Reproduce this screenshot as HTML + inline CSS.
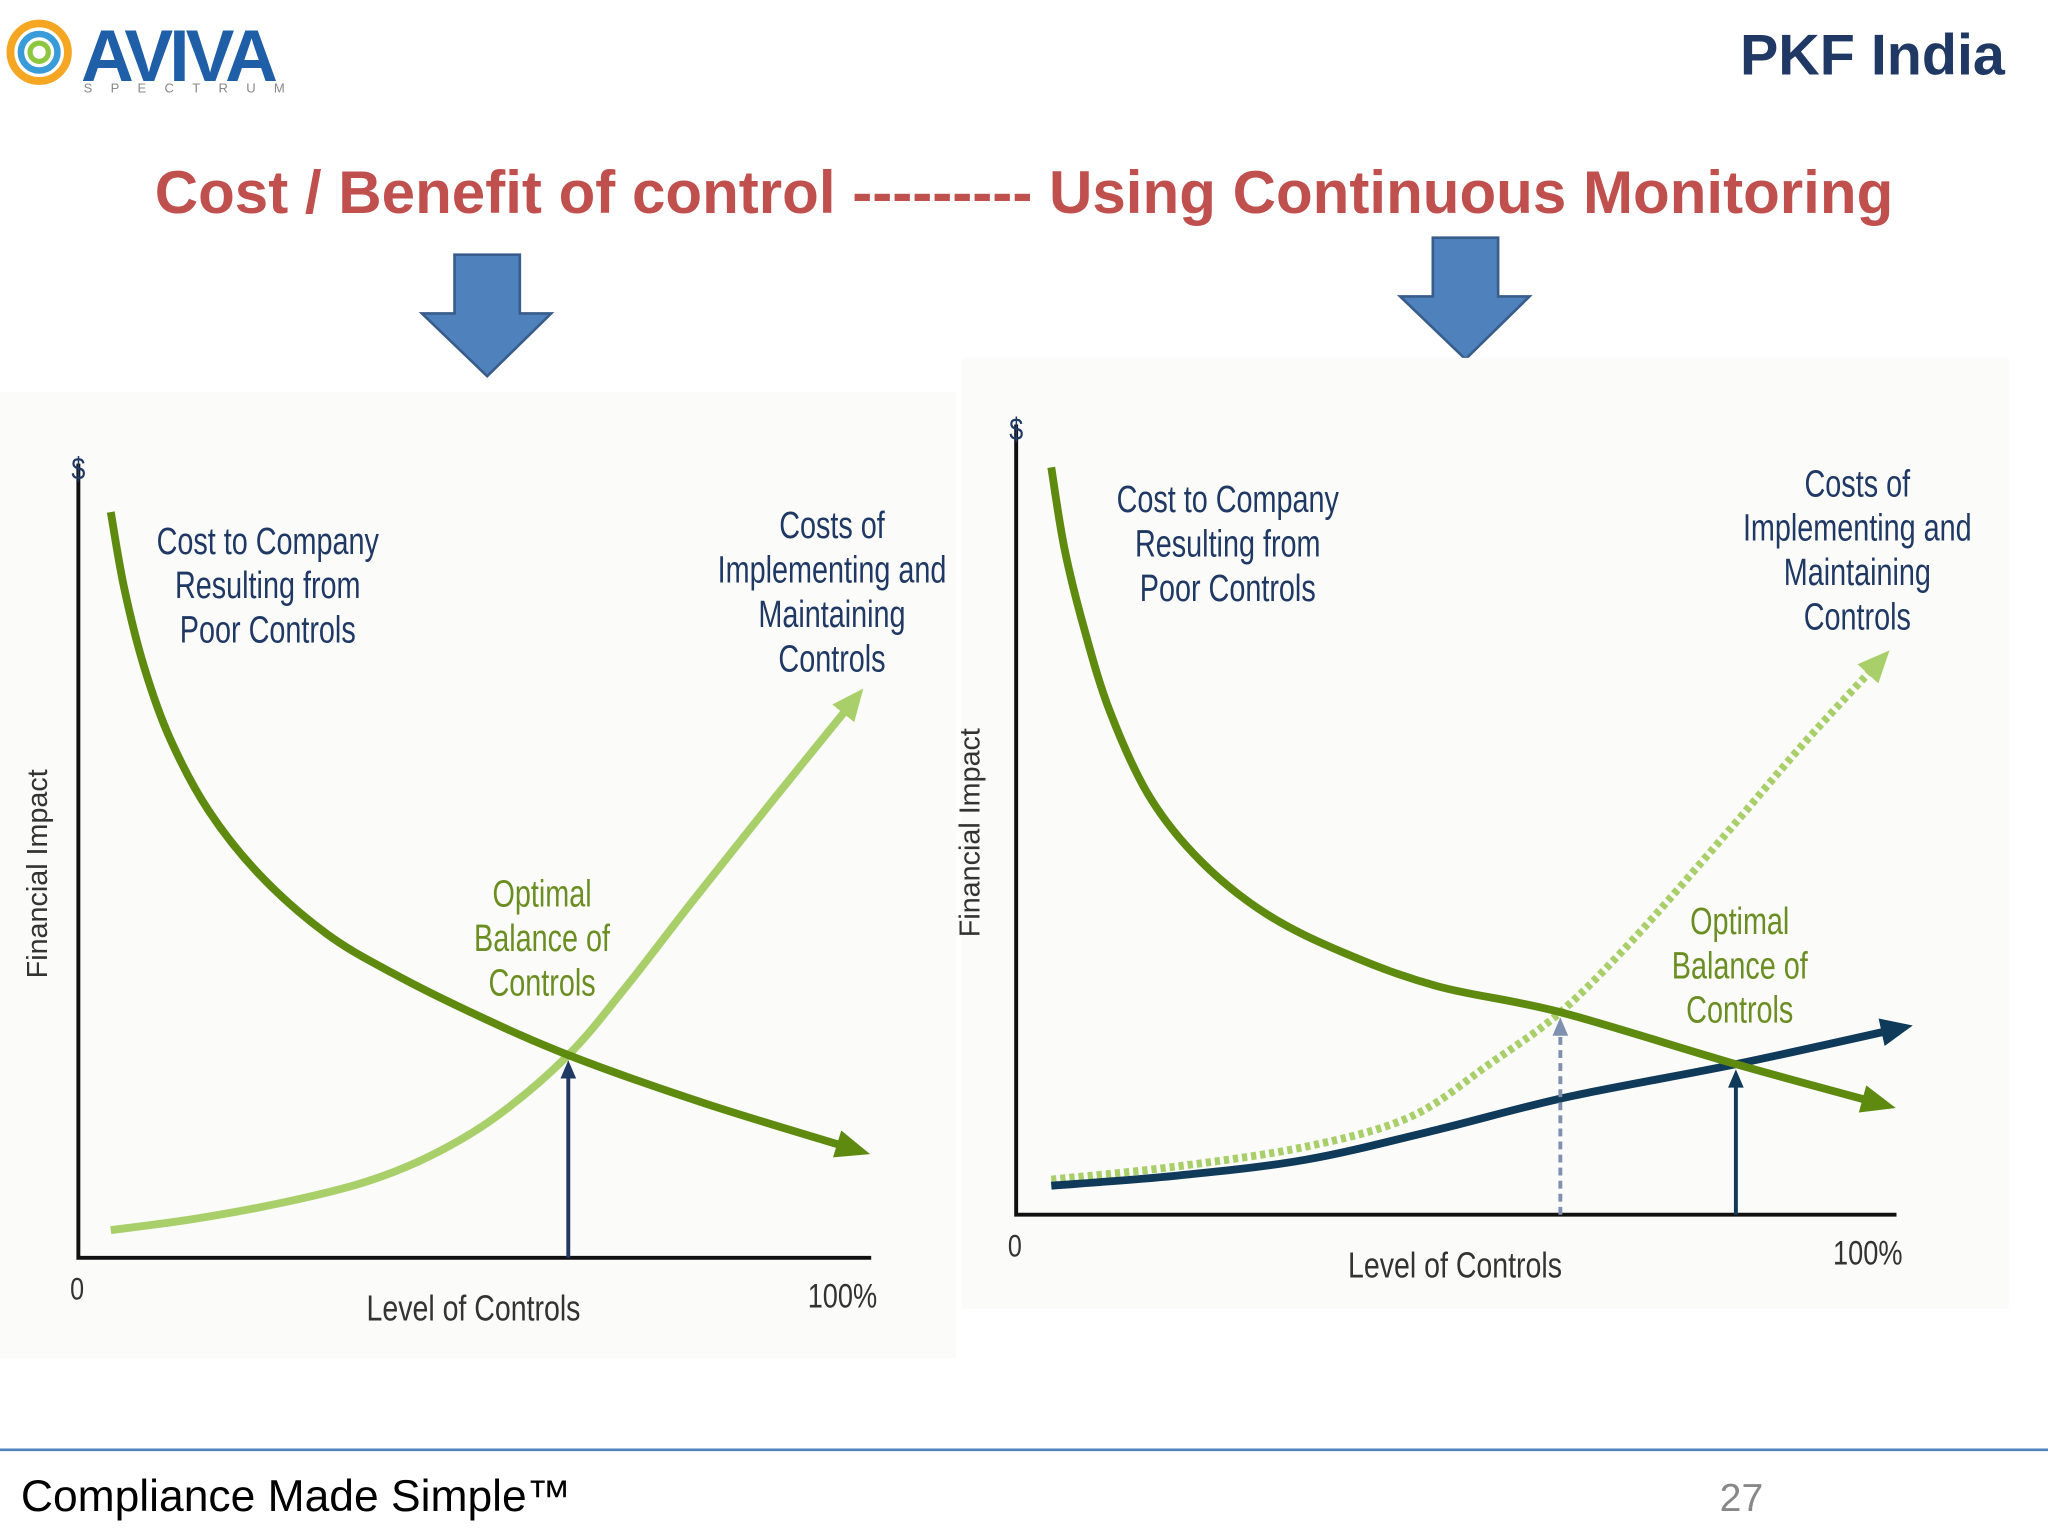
<!DOCTYPE html>
<html><head><meta charset="utf-8"><style>
body{margin:0;background:#fff;width:2048px;height:1536px;overflow:hidden}
svg{display:block}
.t{font-family:"Liberation Sans",sans-serif}
.n{font-family:"Liberation Sans",sans-serif}
</style></head><body>
<svg id="s" width="2048" height="1536" viewBox="0 0 1568 1176">
<g>
<circle cx="30" cy="40" r="22" fill="none" stroke="#f5a623" stroke-width="6"/>
<circle cx="30" cy="40" r="14" fill="none" stroke="#3a9bd9" stroke-width="5"/>
<circle cx="30" cy="40" r="7" fill="none" stroke="#8dc63f" stroke-width="4"/>
<text x="62" y="62" class="t" font-size="56" font-weight="bold" fill="#1f5fa8" letter-spacing="-3">AVIVA</text>
<text x="64" y="71" class="t" font-size="10" fill="#888" letter-spacing="14">SPECTRUM</text>
</g>
<text x="1535" y="57" text-anchor="end" class="t" font-size="44" font-weight="bold" fill="#1f3864">PKF India</text>
<text x="784" y="163" text-anchor="middle" class="t" font-size="46" font-weight="bold" fill="#c0504d">Cost / Benefit of control --------- Using Continuous Monitoring</text>
<path d="M348,195h50v45h24l-49,48l-50,-48h25z" fill="#4f81bd" stroke="#385d8a" stroke-width="2"/>
<path d="M1097,182h50v45h24l-49,48l-50,-48h25z" fill="#4f81bd" stroke="#385d8a" stroke-width="2"/>
<rect x="0" y="300" width="732" height="740" fill="#fbfbf9"/>
<rect x="736" y="274" width="802" height="728" fill="#fbfbf9"/>
<g id="L"></g>
<g id="R"></g>
<line x1="0" y1="1110" x2="1568" y2="1110" stroke="#4f81bd" stroke-width="2"/>
<text x="16" y="1157" class="t" font-size="34" fill="#000">Compliance Made Simple™</text>
<text x="1350" y="1157" text-anchor="end" class="t" font-size="30" fill="#888">27</text>
</svg>
<script>
// data: [level %, financial impact %]
const leftCost=[[4.1,97.1],[5.8,87.2],[8.3,77],[11.6,67.6],[16.5,58.2],[23.1,49.7],[31.4,42.2],[39.7,37.1],[49.6,32],[62,26.4],[79.3,20.1],[98.3,14.1]];
const leftImpl=[[4.1,3.6],[14.9,5.1],[26.4,7.3],[36.4,9.9],[44.6,13.3],[52.9,18.4],[62,26.4],[69.4,35.4],[77.7,46.4],[87.6,59.2],[98.3,72.8]];
const leftOptimal=62;
const rightCost=[[4,97.8],[5.5,87.2],[7.7,76.9],[10.7,65.8],[15.2,54.7],[21.1,46.2],[28.6,39.3],[37.5,34.2],[48,29.9],[62,26.5],[82,19.7],[98.5,14.5]];
const rightImplOld=[[4,4.6],[18.2,6.3],[33,8.9],[44.9,12.8],[53.9,19.7],[62,26.5],[70.2,35.9],[80.7,49.6],[89.6,61.5],[98.5,72.6]];
const rightImplNew=[[4,3.8],[18.2,5.1],[33,7.2],[47.9,11.1],[62.8,15.4],[82,19.7],[100.7,24.4]];
const rightOptimalOld=62, rightOptimalNew=82;
const NS="http://www.w3.org/2000/svg";
function mk(p,tag,a){const e=document.createElementNS(NS,tag);for(const k in a)e.setAttribute(k,a[k]);p.appendChild(e);return e;}
function path(pts){let d="M"+pts[0].join(",");for(let i=0;i<pts.length-1;i++){const p0=pts[i-1]||pts[i],p1=pts[i],p2=pts[i+1],p3=pts[i+2]||p2;
d+=" C"+(p1[0]+(p2[0]-p0[0])/6)+","+(p1[1]+(p2[1]-p0[1])/6)+" "+(p2[0]-(p3[0]-p1[0])/6)+","+(p2[1]-(p3[1]-p1[1])/6)+" "+p2[0]+","+p2[1];}return d;}
function chart(g,ox,oy,w,h,cost,impls,opts,cfg){
 const X=v=>ox+v/100*w, Y=v=>oy-v/100*h;
 let e=mk(g,"path",{d:`M${ox},${oy-h-20}V${oy}H${ox+w+2}`,fill:"none",stroke:"#111","stroke-width":3});
 
 function tx(x,y,s,c,sz,name,anchor,rot,sx){const t=mk(g,"text",{x,y,fill:c,"font-size":sz,"text-anchor":anchor||"middle",class:"n"});
  if(rot)t.setAttribute("transform",`rotate(-90 ${x} ${y})`);else if(sx)t.setAttribute("transform",`translate(${x} 0) scale(${sx} 1) translate(${-x} 0)`);
  t.textContent=s;return t;}
 tx(ox,oy-h-8,"$","#1f3864",24,"y-axis-dollar",null,false,0.8);
 tx(ox-1,oy+32,"0","#333",24,"x-tick-0",null,false,0.8);
 tx(ox+w-20,oy+38,"100%","#333",26,"x-tick-100",null,false,0.8);
 tx(ox+w/2,oy+48,"Level of Controls","#333",28,"x-axis-title",null,false,0.78);
 tx(cfg.yx,oy-h/2,"Financial Impact","#333",22,"y-axis-title","middle",true);
 impls.forEach((im,i)=>{const p=mk(g,"path",{d:path(im.d.map(q=>[X(q[0]),Y(q[1])])),fill:"none",stroke:im.c,"stroke-width":im.w,"stroke-dasharray":im.dash||"none"});
  
  const l=im.d[im.d.length-1],m=im.d[im.d.length-2];const a=Math.atan2(Y(l[1])-Y(m[1]),X(l[0])-X(m[0]));
  const ax=X(l[0]),ay=Y(l[1]);const h2=mk(g,"path",{d:`M${ax+Math.cos(a)*10},${ay+Math.sin(a)*10}L${ax+Math.cos(a+2.5)*18},${ay+Math.sin(a+2.5)*18}L${ax+Math.cos(a-2.5)*18},${ay+Math.sin(a-2.5)*18}z`,fill:im.c});
  });
 const c=mk(g,"path",{d:path(cost.map(q=>[X(q[0]),Y(q[1])])),fill:"none",stroke:"#5f8a10","stroke-width":6});
 
 const l=cost[cost.length-1],m=cost[cost.length-2];const a=Math.atan2(Y(l[1])-Y(m[1]),X(l[0])-X(m[0]));const ax=X(l[0]),ay=Y(l[1]);
 const h2=mk(g,"path",{d:`M${ax+Math.cos(a)*12},${ay+Math.sin(a)*12}L${ax+Math.cos(a+2.5)*18},${ay+Math.sin(a+2.5)*18}L${ax+Math.cos(a-2.5)*18},${ay+Math.sin(a-2.5)*18}z`,fill:"#5f8a10"});
 
 opts.forEach(o=>{const yv=o.y;const ln=mk(g,"line",{x1:X(o.x),y1:oy,x2:X(o.x),y2:Y(yv)+14,stroke:o.c,"stroke-width":3,"stroke-dasharray":o.dash||"none"});
  
  const hd=mk(g,"path",{d:`M${X(o.x)},${Y(yv)+4}l-6,14h12z`,fill:o.c});});
 cfg.labels.forEach(L=>{L.lines.forEach((s,i)=>tx(L.x,L.y+i*34,s,L.c,29,L.name+"-line"+(i+1),null,false,0.76));});
}
chart(document.getElementById("L"),60,963,605,588,leftCost,
 [{d:leftImpl,c:"#a9cf6b",w:6,name:"implementing-cost-curve"}],
 [{x:leftOptimal,y:26.4,c:"#1f3864",name:"optimal-marker"}],
 {yx:36,labels:[
  {x:205,y:424,c:"#1f3864",name:"cost-label",lines:["Cost to Company","Resulting from","Poor Controls"]},
  {x:637,y:412,c:"#1f3864",name:"impl-label",lines:["Costs of","Implementing and","Maintaining","Controls"]},
  {x:415,y:694,c:"#6b8e23",name:"optimal-label",lines:["Optimal","Balance of","Controls"]}]});
chart(document.getElementById("R"),778,930,672,585,rightCost,
 [{d:rightImplOld,c:"#a9cf6b",w:6,dash:"4 3",name:"old-implementing-cost-curve"},
  {d:rightImplNew,c:"#103a5a",w:6,name:"monitoring-implementing-cost-curve"}],
 [{x:rightOptimalOld,y:26.5,c:"#8090b0",dash:"6 4",name:"old-optimal-marker"},{x:rightOptimalNew,y:19.7,c:"#103a5a",name:"new-optimal-marker"}],
 {yx:750,labels:[
  {x:940,y:392,c:"#1f3864",name:"cost-label",lines:["Cost to Company","Resulting from","Poor Controls"]},
  {x:1422,y:380,c:"#1f3864",name:"impl-label",lines:["Costs of","Implementing and","Maintaining","Controls"]},
  {x:1332,y:715,c:"#6b8e23",name:"optimal-label",lines:["Optimal","Balance of","Controls"]}]});
</script>
</body></html>
